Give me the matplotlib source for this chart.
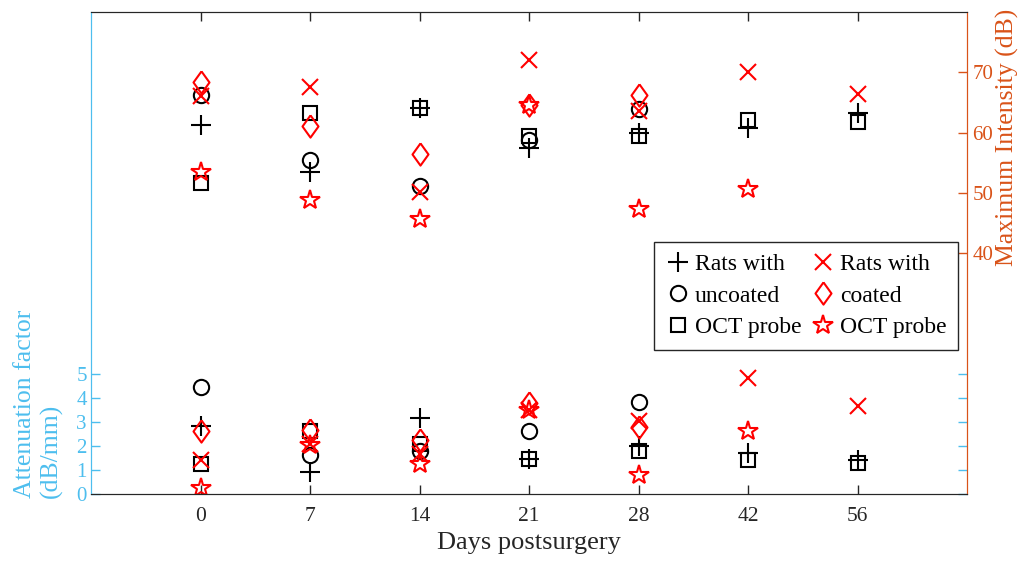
import numpy as np
import matplotlib
matplotlib.use("Agg")
import matplotlib.pyplot as plt

plt.rcParams['font.family'] = ['Liberation Serif', 'DejaVu Serif']

nan = np.nan

days = ['0', '7', '14', '21', '28', '42', '56']

# attenuation factor (dB/mm), left axis
uncoated_plus_att = [2.82, 0.92, 3.15, 1.45, 2.00, 1.72, 1.40]
uncoated_circle_att = [4.46, 1.61, 1.79, 2.60, 3.80, nan, nan]
uncoated_square_att = [1.23, 2.62, 2.09, 1.45, 1.78, 1.43, 1.27]
coated_x_att = [1.40, 2.09, 1.68, 3.50, 3.02, 4.82, 3.64]
coated_diamond_att = [2.60, 2.64, 2.26, 3.77, 2.78, nan, nan]
coated_star_att = [0.23, 2.02, 1.23, 3.47, 0.79, 2.62, nan]

# maximum intensity (dB), right axis
uncoated_plus_int = [61.2, 53.4, 64.0, 57.4, 60.0, 60.8, 63.3]
uncoated_circle_int = [66.3, 55.5, 51.2, 58.7, 63.9, nan, nan]
uncoated_square_int = [51.7, 63.2, 64.0, 59.4, 59.4, 62.0, 61.7]
coated_x_int = [66.0, 67.6, 50.2, 72.0, 63.6, 70.0, 66.4]
coated_diamond_int = [68.4, 61.0, 56.5, 64.6, 66.2, nan, nan]
coated_star_int = [53.5, 48.8, 45.6, 64.5, 47.3, 50.7, nan]

LIGHT_BLUE = '#4DBEEE'
ORANGE = '#D95319'
DARK = '#262626'

# matlab-like diamond, a bit narrower than tall
DIAMOND = [(0, 1), (0.72, 0), (0, -1), (-0.72, 0), (0, 1)]

series = [
    (uncoated_plus_att, uncoated_plus_int, '+', 'k', 14, 'Rats with'),
    (uncoated_circle_att, uncoated_circle_int, 'o', 'k', 11, 'uncoated'),
    (uncoated_square_att, uncoated_square_int, 's', 'k', 9.5, 'OCT probe'),
    (coated_x_att, coated_x_int, 'x', 'r', 11, 'Rats with'),
    (coated_diamond_att, coated_diamond_int, DIAMOND, 'r', 16, 'coated'),
    (coated_star_att, coated_star_int, '*', 'r', 15, 'OCT probe'),
]

fig = plt.figure(figsize=(10.26, 5.67), dpi=100)
ax = fig.add_axes([0.0887, 0.1287, 0.8538, 0.8501])
ax2 = ax.twinx()

x = np.arange(len(days))
handles = []
for att, inten, mk, col, ms, lab in series:
    kw = dict(linestyle='none', marker=mk, markersize=ms, markeredgecolor=col,
              markerfacecolor='none', markeredgewidth=1.5)
    h, = ax.plot(x, att, label=lab, **kw)
    ax2.plot(x, inten, **kw)
    handles.append(h)

ax.set_xlim(-1, 7)
ax.set_ylim(0, 20)
ax2.set_ylim(0, 80)

ax.set_xticks(x)
ax.set_xticklabels(days)
ax.set_yticks([0, 1, 2, 3, 4, 5])
ax2.set_yticks([40, 50, 60, 70])

ax.tick_params(axis='x', direction='in', top=True, length=6.5, width=1,
               colors=DARK, labelsize=15.5, pad=9)
ax.tick_params(axis='y', direction='in', right=True, length=6.5, width=1,
               colors=LIGHT_BLUE, labelsize=15, pad=3)
ax2.tick_params(axis='y', direction='in', length=6.5, width=1,
                colors=ORANGE, labelsize=15, pad=4)

for a in (ax, ax2):
    a.spines['top'].set_color(DARK)
    a.spines['bottom'].set_color(DARK)
    a.spines['left'].set_color(LIGHT_BLUE)
    a.spines['right'].set_color(ORANGE)

ax.set_xlabel('Days postsurgery', fontsize=19, color=DARK, labelpad=5)
ax2.set_ylabel('Maximum Intensity (dB)', fontsize=18.5, color=ORANGE)
ax2.yaxis.set_label_coords(1.033, 0.74)
ax.text(-0.06, -0.008, 'Attenuation factor\n(dB/mm)', transform=ax.transAxes,
        rotation=90, ha='center', va='bottom', multialignment='left',
        fontsize=18.5, color=LIGHT_BLUE, linespacing=1.25)

leg = ax2.legend(handles=handles, ncol=2, loc='upper right',
                 bbox_to_anchor=(0.990, 0.523), borderaxespad=0, fontsize=17,
                 frameon=True, fancybox=False, edgecolor=DARK, framealpha=1,
                 handlelength=1.0, handletextpad=0.22, columnspacing=0.4,
                 labelspacing=0.42, borderpad=0.5)
leg.get_frame().set_linewidth(1.0)

fig.savefig('out.png', dpi=100)
